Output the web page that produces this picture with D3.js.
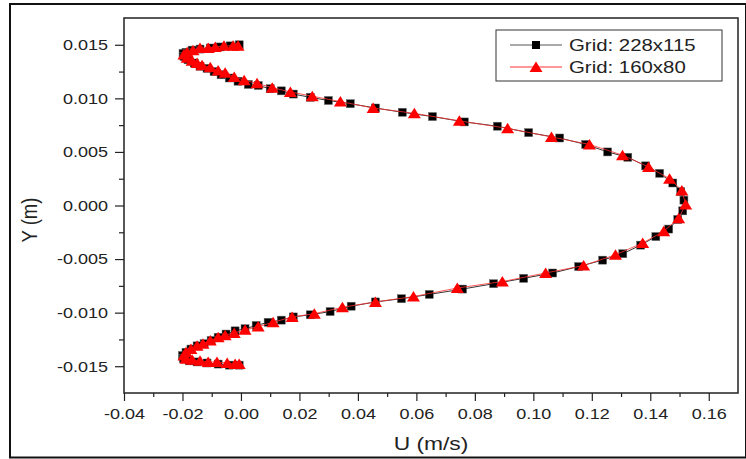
<!DOCTYPE html>
<html>
<head>
<meta charset="utf-8">
<script src="https://cdn.jsdelivr.net/npm/d3@7"></script>
<style>
  body { margin: 0; background: #fff; }
  text { font-family: "Liberation Sans", Arial, sans-serif; fill: #222; }
</style>
</head>
<body>
<svg class="profile" width="746" height="459"></svg>
<script>
// velocity profile, grid 228x115 (black squares)
const u228 = [-0.0006, -0.0037, -0.0071, -0.0105, -0.0140, -0.0167, -0.0188, -0.0198, -0.0195, -0.0181,
  -0.0160, -0.0140, -0.0116, -0.0092, -0.0068, -0.0040, -0.0010, 0.0025, 0.0059, 0.0100,
  0.0138, 0.0179, 0.0237, 0.0299, 0.0374, 0.0460, 0.0552, 0.0655, 0.0764, 0.0877,
  0.0984, 0.1090, 0.1179, 0.1254, 0.1323, 0.1384, 0.1432, 0.1477, 0.1504, 0.1515,
  0.1511, 0.1494, 0.1463, 0.1419, 0.1367, 0.1306, 0.1237, 0.1155, 0.1066, 0.0967,
  0.0864, 0.0758, 0.0644, 0.0549, 0.0460, 0.0377, 0.0305, 0.0237, 0.0179, 0.0138,
  0.0093, 0.0052, 0.0014, -0.0020, -0.0051, -0.0078, -0.0102, -0.0126, -0.0150, -0.0171,
  -0.0188, -0.0200, -0.0197, -0.0177, -0.0150, -0.0116, -0.0078, -0.0040, -0.0006];
const y228 = [0.0150, 0.0149, 0.0148, 0.0147, 0.0146, 0.0145, 0.0143, 0.0142, 0.0139, 0.0136,
  0.0133, 0.0130, 0.0128, 0.0125, 0.0122, 0.0119, 0.0116, 0.0113, 0.0112, 0.0109,
  0.0107, 0.0104, 0.0101, 0.0098, 0.0095, 0.0091, 0.0087, 0.0083, 0.0078, 0.0074,
  0.0068, 0.0063, 0.0057, 0.0050, 0.0045, 0.0037, 0.0030, 0.0021, 0.0013, 0.0005,
  -0.0005, -0.0013, -0.0022, -0.0029, -0.0037, -0.0045, -0.0051, -0.0057, -0.0063, -0.0068,
  -0.0073, -0.0078, -0.0083, -0.0087, -0.0090, -0.0094, -0.0099, -0.0102, -0.0104, -0.0107,
  -0.0109, -0.0112, -0.0115, -0.0117, -0.0120, -0.0123, -0.0126, -0.0129, -0.0131, -0.0134,
  -0.0137, -0.0140, -0.0143, -0.0145, -0.0146, -0.0147, -0.0148, -0.0149, -0.0149];

// velocity profile, grid 160x80 (red triangles)
const u160 = [-0.0010, -0.0027, -0.0058, -0.0088, -0.0112, -0.0140, -0.0164, -0.0184, -0.0195, -0.0184,
  -0.0167, -0.0150, -0.0133, -0.0105, -0.0078, -0.0054, -0.0023, 0.0011, 0.0055, 0.0107,
  0.0169, 0.0244, 0.0340, 0.0452, 0.0593, 0.0747, 0.0912, 0.1062, 0.1192, 0.1305,
  0.1394, 0.1466, 0.1508, 0.1521, 0.1497, 0.1446, 0.1374, 0.1281, 0.1172, 0.1042,
  0.0894, 0.0740, 0.0590, 0.0460, 0.0347, 0.0251, 0.0175, 0.0110, 0.0059, 0.0014,
  -0.0023, -0.0054, -0.0078, -0.0105, -0.0130, -0.0150, -0.0171, -0.0188, -0.0195, -0.0188,
  -0.0167, -0.0140, -0.0112, -0.0082, -0.0047, -0.0020, -0.0006];
const y160 = [0.0149, 0.0149, 0.0149, 0.0148, 0.0147, 0.0147, 0.0145, 0.0143, 0.0141, 0.0138,
  0.0135, 0.0133, 0.0131, 0.0129, 0.0126, 0.0124, 0.0120, 0.0117, 0.0114, 0.0110,
  0.0106, 0.0102, 0.0097, 0.0091, 0.0086, 0.0079, 0.0072, 0.0064, 0.0057, 0.0047,
  0.0036, 0.0025, 0.0014, 0.0001, -0.0012, -0.0024, -0.0035, -0.0046, -0.0056, -0.0063,
  -0.0071, -0.0077, -0.0085, -0.0090, -0.0095, -0.0101, -0.0104, -0.0109, -0.0113, -0.0116,
  -0.0119, -0.0121, -0.0123, -0.0126, -0.0129, -0.0131, -0.0134, -0.0137, -0.0140, -0.0143,
  -0.0144, -0.0145, -0.0146, -0.0146, -0.0147, -0.0148, -0.0148];

const xTicks = [-0.04, -0.02, 0.00, 0.02, 0.04, 0.06, 0.08, 0.10, 0.12, 0.14, 0.16];
const xMinor = [-0.03, -0.01, 0.01, 0.03, 0.05, 0.07, 0.09, 0.11, 0.13, 0.15];
const yTicks = [-0.015, -0.010, -0.005, 0.000, 0.005, 0.010, 0.015];
const yMinor = [-0.0125, -0.0075, -0.0025, 0.0025, 0.0075, 0.0125];
const seriesNames = ["Grid: 228x115", "Grid: 160x80"];

(function profileIIFE() {
  let svg = d3.select("svg.profile");
  let margin = {top: 18, right: 8, bottom: 66, left: 124};
  let width = svg.attr("width") - margin.left - margin.right;
  let height = svg.attr("height") - margin.top - margin.bottom;
  const stretch = "scale(1.2,1)";

  // outer border
  svg.append("rect")
    .attr("x", 10).attr("y", 4)
    .attr("width", 736).attr("height", 453.5)
    .attr("fill", "none").attr("stroke", "#111").attr("stroke-width", 2);

  let x = d3.scaleLinear().domain([-0.04, 0.17]).range([0, width]);
  let y = d3.scaleLinear().domain([-0.0175, 0.0175]).range([height, 0]);

  let g = svg.append("g").attr("transform", "translate(" + margin.left + "," + margin.top + ")");

  // minor ticks
  g.append("g")
    .attr("transform", "translate(0," + height + ")")
    .call(d3.axisBottom(x).tickValues(xMinor).tickSize(4).tickFormat(""))
    .call(a => a.select(".domain").remove());
  g.append("g")
    .call(d3.axisLeft(y).tickValues(yMinor).tickSize(5).tickFormat(""))
    .call(a => a.select(".domain").remove());

  // major ticks + labels
  g.append("g")
    .attr("class", "x-axis")
    .attr("transform", "translate(0," + height + ")")
    .call(d3.axisBottom(x).tickValues(xTicks).tickSize(8).tickPadding(7)
      .tickFormat(d => d.toFixed(2)))
    .call(a => a.select(".domain").remove());
  g.append("g")
    .attr("class", "y-axis")
    .call(d3.axisLeft(y).tickValues(yTicks).tickSize(9).tickPadding(4)
      .tickFormat(d => d.toFixed(3)))
    .call(a => a.select(".domain").remove());

  g.selectAll(".tick line").attr("stroke", "#222").attr("stroke-width", 1.2);
  g.selectAll(".tick text")
    .style("font-size", "15px")
    .style("font-family", "'Liberation Sans', Arial, sans-serif")
    .attr("fill", "#222")
    .attr("transform", stretch);
  g.selectAll(".y-axis .tick text").attr("x", -13.3);

  // frame
  g.append("rect")
    .attr("width", width).attr("height", height)
    .attr("fill", "none").attr("stroke", "#222").attr("stroke-width", 1.5);

  // axis titles
  svg.append("text")
    .attr("transform", "translate(431,450) " + stretch)
    .attr("text-anchor", "middle")
    .style("font-size", "19px")
    .text("U (m/s)");
  svg.append("text")
    .attr("transform", "translate(37,220) " + stretch + " rotate(-90)")
    .attr("text-anchor", "middle")
    .style("font-size", "18.5px")
    .text("Y (m)");

  const pts228 = u228.map((u, i) => [u, y228[i]]);
  const pts160 = u160.map((u, i) => [u, y160[i]]);
  const line = d3.line().x(d => x(d[0])).y(d => y(d[1]));
  const tri = "M0,-5.5L6.5,5L-6.5,5Z";

  // grid 228x115
  g.append("path").datum(pts228)
    .attr("d", line).attr("fill", "none")
    .attr("stroke", "#000").attr("stroke-width", 0.8);
  g.selectAll(".sq").data(pts228).enter()
    .append("rect").attr("class", "sq")
    .attr("x", d => x(d[0]) - 4).attr("y", d => y(d[1]) - 4)
    .attr("width", 8).attr("height", 8)
    .attr("fill", "#000").attr("stroke", "#666").attr("stroke-width", 0.5);

  // grid 160x80
  g.append("path").datum(pts160)
    .attr("d", line).attr("fill", "none")
    .attr("stroke", "#ff3030").attr("stroke-width", 0.8);
  g.selectAll(".tri").data(pts160).enter()
    .append("path").attr("class", "tri")
    .attr("transform", d => "translate(" + x(d[0]) + "," + y(d[1]) + ")")
    .attr("d", tri)
    .attr("fill", "#f00");

  // legend
  let lg = svg.append("g").attr("transform", "translate(496,30)");
  lg.append("rect")
    .attr("width", 226).attr("height", 51)
    .attr("fill", "#fff").attr("stroke", "#333").attr("stroke-width", 1);
  seriesNames.forEach(function(name, i) {
    let cy = 15 + i * 22;
    lg.append("line")
      .attr("x1", 14).attr("x2", 66).attr("y1", cy).attr("y2", cy)
      .attr("stroke", i === 0 ? "#555" : "#ff3030").attr("stroke-width", 1);
    if (i === 0) {
      lg.append("rect").attr("x", 36).attr("y", cy - 4)
        .attr("width", 8).attr("height", 8).attr("fill", "#000");
    } else {
      lg.append("path").attr("transform", "translate(40," + cy + ")")
        .attr("d", tri).attr("fill", "#f00");
    }
    lg.append("text")
      .attr("transform", "translate(73," + (cy + 6) + ") " + stretch)
      .style("font-size", "17px")
      .text(name);
  });
})();
</script>
</body>
</html>
